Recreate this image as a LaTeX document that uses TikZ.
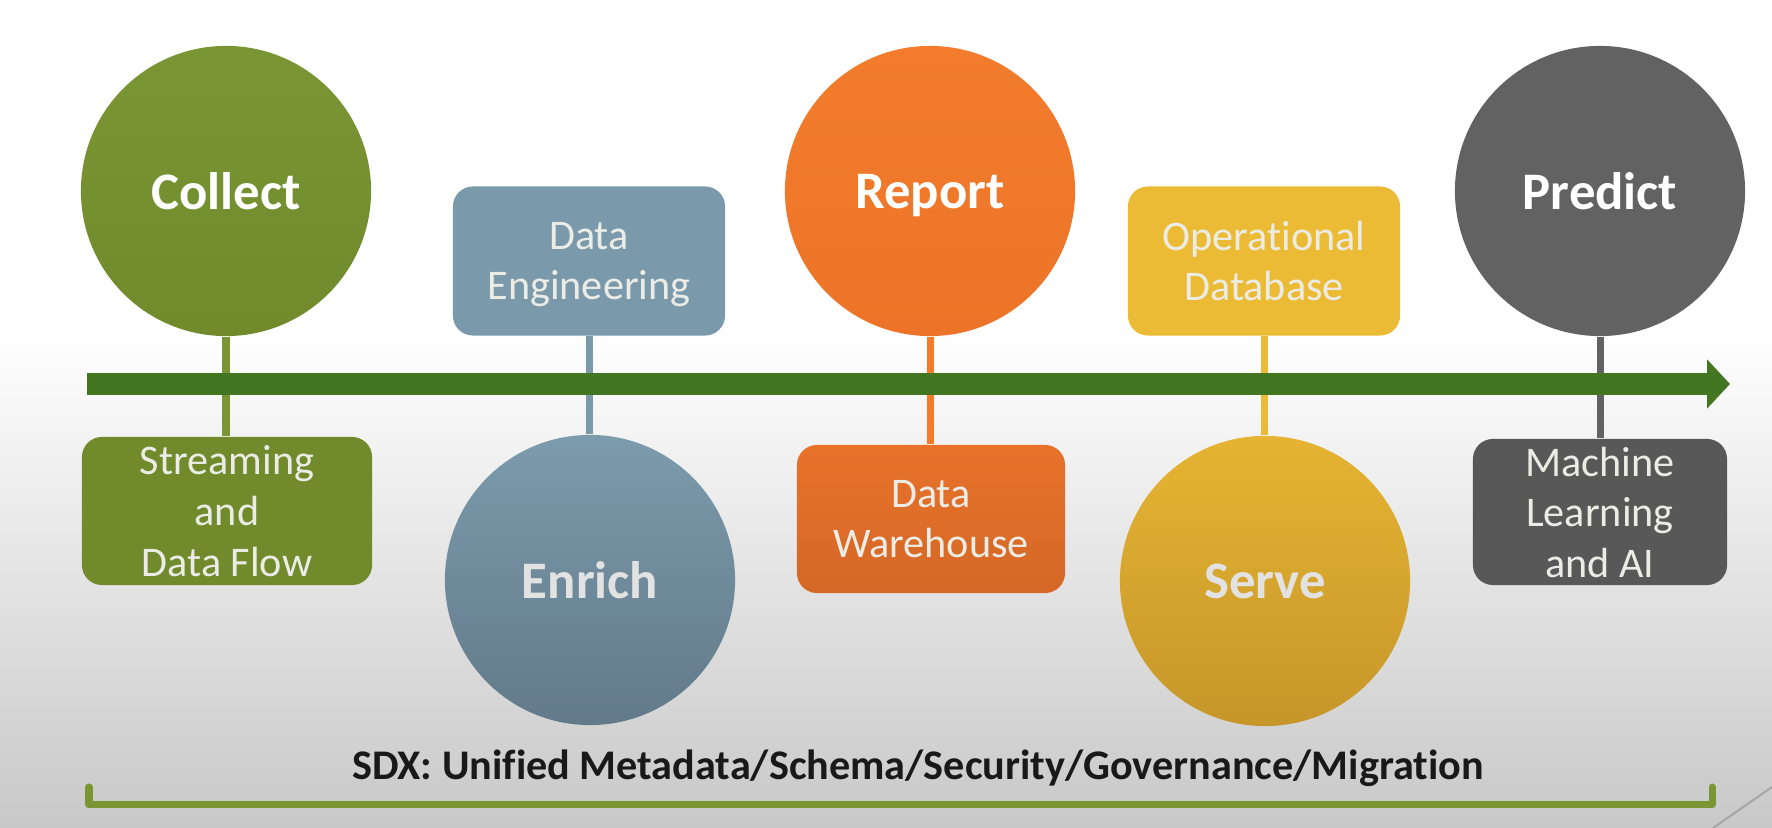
\documentclass[tikz,border=0pt]{standalone}
\usepackage{fontspec}
\setmainfont{Carlito}[Ligatures = NoCommon]
\usepackage{tikz}
\usetikzlibrary{positioning, arrows.meta}
\tikzstyle{slide} = [x = 0.01cm, y = -0.01cm]
\definecolor{collectTop}{RGB}{122,150,52}
\definecolor{collectBottom}{RGB}{112,138,44}
\definecolor{streamFill}{RGB}{112,138,44}
\definecolor{enrichTop}{RGB}{124,155,172}
\definecolor{enrichBottom}{RGB}{98,122,138}
\definecolor{engFill}{RGB}{122,154,172}
\definecolor{reportTop}{RGB}{242,124,44}
\definecolor{reportBottom}{RGB}{236,116,40}
\definecolor{warehouseTop}{RGB}{232,114,42}
\definecolor{warehouseBottom}{RGB}{212,104,38}
\definecolor{serveTop}{RGB}{230,180,50}
\definecolor{serveBottom}{RGB}{198,150,42}
\definecolor{opFill}{RGB}{236,187,54}
\definecolor{predictFill}{RGB}{98,98,98}
\definecolor{mlFill}{RGB}{88,88,88}
\definecolor{arrowGreen}{RGB}{66,118,32}
\definecolor{bracketGreen}{RGB}{122,150,50}
\definecolor{boxText}{RGB}{236,236,230}
\definecolor{paleText}{RGB}{226,226,226}
\definecolor{bgBottom}{RGB}{200,200,200}
\tikzstyle{stageCircle} = [circle, minimum size = 2.9cm, inner sep = 0pt, text depth = 0pt, text = white, font = \fontsize{15}{18}\selectfont\bfseries]
\tikzstyle{stageBox} = [rounded corners = .2cm, inner sep = 0pt, text depth = 0pt, align = center, text = boxText, font = \fontsize{12}{14.4}\selectfont]
\tikzstyle{stem} = [line width = .07cm]
\tikzstyle{timeLine} = [color = arrowGreen, line width = .22cm, -{Triangle[length = .23cm, width = .48cm]}]
\tikzstyle{sdxBracket} = [color = bracketGreen, line width = .07cm, line cap = round, line join = round]
\tikzstyle{sdxText} = [text = black!90, font = \fontsize{12}{14}\selectfont\bfseries]
\begin{document}
\begin{tikzpicture}[slide]
  \useasboundingbox (0,0) rectangle (1772,828);
  \fill [white] (0,0) rectangle (1772,330);
  \shade [top color = white, bottom color = bgBottom] (0,330) rectangle (1772,828);
  \draw [color = black!35, line width = .02cm] (1772,787) -- (1713,828);

  \node [stageCircle, top color = collectTop, bottom color = collectBottom] (collect) at (226,191) {Collect};
  \node [stageBox, fill = streamFill, minimum width = 2.90cm, minimum height = 1.48cm] (streaming) at (227,511) {Streaming\\and\\Data Flow};
  \node [stageBox, fill = engFill, minimum width = 2.72cm, minimum height = 1.49cm] (engineering) at (589,261) {Data\\Engineering};
  \node [stageCircle, text = paleText, top color = enrichTop, bottom color = enrichBottom] (enrich) at (590,580) {Enrich};
  \node [stageCircle, top color = reportTop, bottom color = reportBottom] (report) at (930,191) {Report};
  \node [stageBox, top color = warehouseTop, bottom color = warehouseBottom, minimum width = 2.68cm, minimum height = 1.48cm] (warehouse) at (931,519) {Data\\Warehouse};
  \node [stageBox, fill = opFill, minimum width = 2.72cm, minimum height = 1.49cm] (operational) at (1264,261) {Operational\\Database};
  \node [stageCircle, text = paleText, top color = serveTop, bottom color = serveBottom] (serve) at (1265,581) {Serve};
  \node [stageCircle, fill = predictFill] (predict) at (1600,191) {Predict};
  \node [stageBox, fill = mlFill, minimum width = 2.54cm, minimum height = 1.46cm] (learning) at (1600,512) {Machine\\Learning\\and AI};

  \draw [stem, collectTop] (collect.south) -- (collect.south |- streaming.north);
  \draw [stem, engFill] (engineering.south) -- (engineering.south |- enrich.north);
  \draw [stem, reportTop] (report.south) -- (report.south |- warehouse.north);
  \draw [stem, opFill] (operational.south) -- (operational.south |- serve.north);
  \draw [stem, predictFill] (predict.south) -- (predict.south |- learning.north);

  \coordinate (timeStart) at (87,384);
  \coordinate (timeEnd) at (1730,384);
  \draw [timeLine] (timeStart) -- (timeEnd);

  \node [sdxText, anchor = base] (sdx) at (918,780) {SDX: Unified Metadata/Schema/Security/Governance/Migration};
  \coordinate (bracketLeft) at (89,787);
  \coordinate (bracketRight) at (1712,787);
  \draw [sdxBracket] (bracketLeft) -- ++(0,18) -| (bracketRight);
\end{tikzpicture}
\end{document}
